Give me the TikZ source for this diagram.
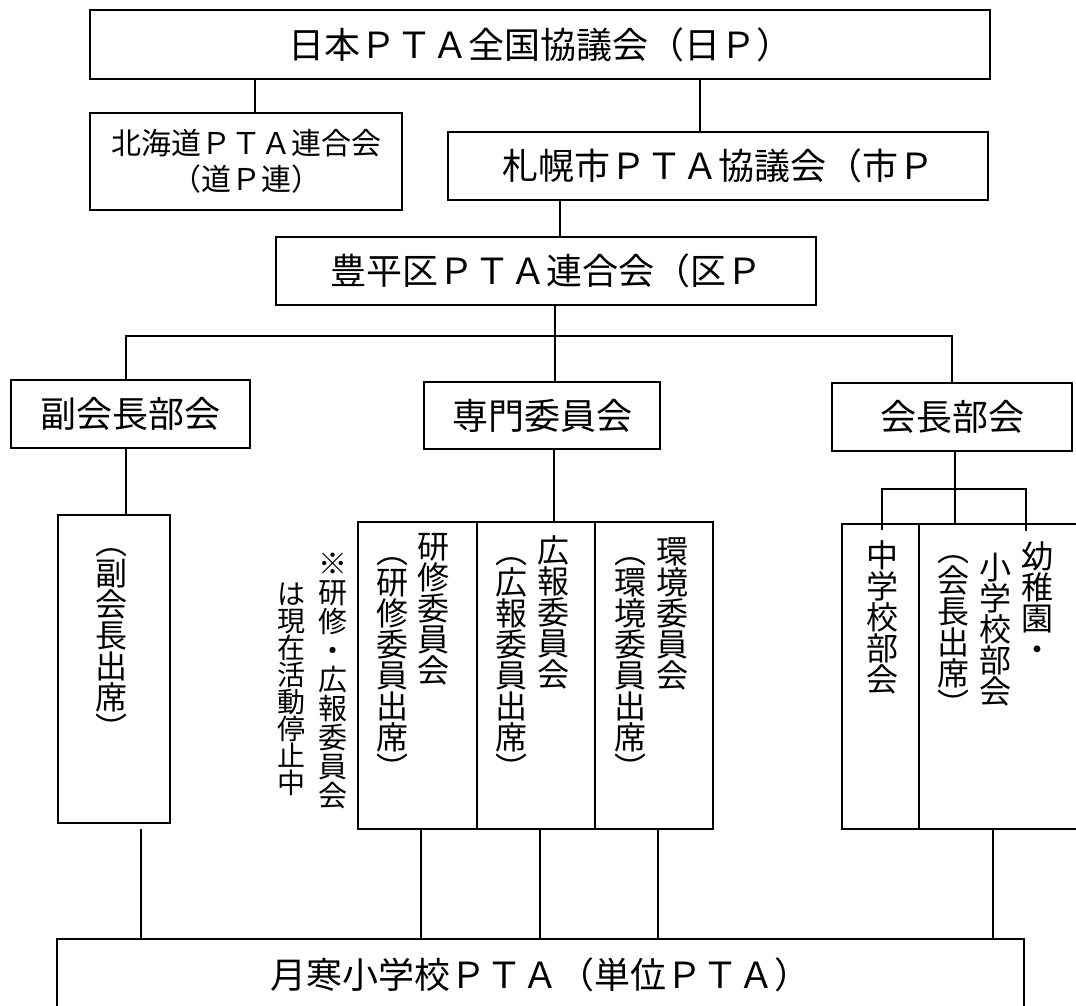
\documentclass[tikz,border=0pt]{standalone}
\usepackage{fontspec}
\setmainfont{Noto Sans CJK JP}
\usetikzlibrary{positioning}
\tikzset{
  box/.style={draw, line width=1.6pt, inner sep=0pt, align=center, font=\fontsize{36}{40}\selectfont},
  cell/.style={draw, line width=1.6pt, inner sep=0pt},
  link/.style={line width=1.3pt},
  vtext/.style={anchor=north, inner sep=0pt, align=center, font=\fontsize{32}{31}\selectfont},
}

\begin{document}
\begin{tikzpicture}[x=1pt,y=-1pt]
\useasboundingbox (0,0) rectangle (1076,1005);
\clip (0,0) rectangle (1076,1005);

% upper levels
\node[box, minimum width=900, minimum height=69] (jp) at (540,44.5) {日本ＰＴＡ全国協議会（日Ｐ）};
\node[box, minimum width=312, minimum height=97, font=\fontsize{30}{36}\selectfont] (hokkaido) at (246,161.5) {北海道ＰＴＡ連合会\\（道Ｐ連）};
\node[box, minimum width=540, minimum height=68] (sapporo) at (718,166) {札幌市ＰＴＡ協議会（市Ｐ};
\node[box, minimum width=540, minimum height=68] (toyohira) at (546,271) {豊平区ＰＴＡ連合会（区Ｐ};

% three sections
\node[box, minimum width=239, minimum height=68] (fuku) at (130.5,414) {副会長部会};
\node[box, minimum width=236, minimum height=67] (senmon) at (542,415.5) {専門委員会};
\node[box, minimum width=240, minimum height=68] (kaicho) at (952,417) {会長部会};

% columns
\node[cell, minimum width=112, minimum height=308] (fukucell) at (114,669) {};
\node[cell, minimum width=119, minimum height=307] (kenshu) at (417.5,675.5) {};
\node[cell, minimum width=118, minimum height=307] (kouhou) at (536,675.5) {};
\node[cell, minimum width=118, minimum height=307] (kankyo) at (654,675.5) {};
\node[cell, minimum width=77, minimum height=305] (chugaku) at (880.5,676.5) {};
\node[cell, minimum width=171, minimum height=305] (shogaku) at (1004.5,676.5) {};

% vertical texts
\node[vtext] (fukuA) at (111,548) {︵\\副\\会\\長\\出\\席\\︶};
\node[vtext] (kenshuA) at (433,533) {研\\修\\委\\員\\会};
\node[vtext] (kenshuB) at (392,557) {︵\\研\\修\\委\\員\\出\\席\\︶};
\node[vtext] (kouhouA) at (553,535) {広\\報\\委\\員\\会};
\node[vtext] (kouhouB) at (511,557) {︵\\広\\報\\委\\員\\出\\席\\︶};
\node[vtext] (kankyoA) at (672,537) {環\\境\\委\\員\\会};
\node[vtext] (kankyoB) at (630,557) {︵\\環\\境\\委\\員\\出\\席\\︶};
\node[vtext, font=\fontsize{29}{29}\selectfont] (noteA) at (333,553) {※\\研\\修\\・\\広\\報\\委\\員\\会};
\node[vtext, font=\fontsize{28}{27}\selectfont] (noteB) at (291,583) {は\\現\\在\\活\\動\\停\\止\\中};
\node[vtext] (chugakuA) at (882,540) {中\\学\\校\\部\\会};
\node[vtext] (youchien) at (1037,542) {幼\\稚\\園\\・};
\node[vtext] (shogakuA) at (995,553) {小\\学\\校\\部\\会};
\node[vtext] (shogakuB) at (953,555) {︵\\会\\長\\出\\席\\︶};

% unit PTA
\node[box, minimum width=967, minimum height=72] (tsukisamu) at (540.5,975) {月寒小学校ＰＴＡ（単位ＰＴＡ）};

% connectors
\draw[link] (jp.south -| 255,0) -- (hokkaido.north -| 255,0);
\draw[link] (jp.south -| 700,0) -- (sapporo.north -| 700,0);
\draw[link] (sapporo.south -| 560,0) -- (toyohira.north -| 560,0);
\coordinate (bus) at (555,336);
\draw[link] (toyohira.south -| bus) -- (bus);
\draw[link] (fuku.north -| 126,0) |- (kaicho.north |- bus) -- (kaicho.north);
\draw[link] (senmon.north -| bus) -- (bus);
\draw[link] (fuku.south -| 126,0) -- (fukucell.north -| 126,0);
\draw[link] (senmon.south -| 554,0) -- (kouhou.north -| 554,0);

% kaicho branches
\coordinate (kbus) at (955,489);
\draw[link] (kaicho.south -| kbus) -- (shogaku.north -| kbus);
\draw[link] (882,530) |- (kbus) -| (1026,531);

% down to unit PTA
\draw[link] (141,829) -- (tsukisamu.north -| 141,0);
\foreach \s/\xx in {kenshu/421, kouhou/540, kankyo/658, shogaku/993}
{
    \draw[link] (\s.south -| \xx,0) -- (tsukisamu.north -| \xx,0);
}

\end{tikzpicture}
\end{document}
